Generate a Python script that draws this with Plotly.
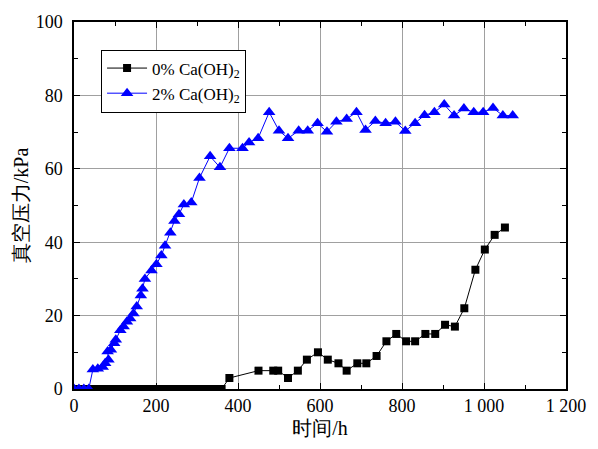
import plotly.graph_objects as go

# 0% Ca(OH)2 series
h0 = [0, 12, 24, 36, 48, 60, 72, 84, 96, 108, 120, 132, 144, 156, 168, 180, 192, 204, 216, 228,
      240, 252, 264, 276, 288, 300, 312, 324, 336, 348, 360, 379, 450, 486, 498, 522, 546, 568,
      595, 619, 645, 665, 691, 713, 738, 762, 786, 810, 832, 857, 881, 905, 929, 952, 979, 1002,
      1026, 1051]
p0 = [0, 0, 0, 0, 0, 0, 0, 0, 0, 0, 0, 0, 0, 0, 0, 0, 0, 0, 0, 0,
      0, 0, 0, 0, 0, 0, 0, 0, 0, 0, 0, 3, 5, 5, 5, 3, 5, 8,
      10, 8, 7, 5, 7, 7, 9, 13, 15, 13, 13, 15, 15, 17.5, 17, 22, 32.5, 38,
      42, 44]

# 2% Ca(OH)2 series
h2 = [0, 12, 24, 36, 46, 58, 70, 76, 84, 82, 90, 98, 102, 113, 121, 129, 137, 145, 153, 163,
      167, 173, 189, 201, 213, 222, 235, 245, 256, 268, 286, 306, 332, 356, 379, 411, 427, 449,
      476, 500, 522, 548, 570, 594, 617, 640, 665, 689, 711, 735, 760, 784, 808, 832, 855, 879,
      903, 927, 951, 975, 998, 1022, 1046, 1070]
p2 = [0, 0, 0, 0, 5.3, 5.5, 6, 7, 8, 10.2, 10.7, 12.5, 13.4, 16, 17, 18.3, 19.2, 20.6, 22.5, 25.5,
      27.3, 30, 32.3, 34, 36.4, 39, 42.6, 45.8, 47.6, 50.3, 50.8, 57.5, 63.4, 60.4, 65.6, 65.6, 67.2, 68.3,
      75.4, 70.4, 68.3, 70.4, 70.4, 72.4, 70.1, 72.8, 73.6, 75.4, 70.6, 73, 72.4, 72.8, 70.3, 72.4, 74.6, 75.4,
      77.5, 74.5, 76.4, 75.4, 75.4, 76.6, 74.5, 74.5]

x_ticks = [0, 200, 400, 600, 800, 1000, 1200]
x_labels = ["0", "200", "400", "600", "800", "1 000", "1 200"]
y_ticks = [0, 20, 40, 60, 80, 100]

FONT = "Times New Roman, Liberation Serif, DejaVu Serif, serif"

fig = go.Figure()
fig.add_trace(go.Scatter(
    x=h0, y=p0, mode="lines+markers", name="0% Ca(OH)<sub>2</sub>",
    line=dict(color="black", width=1),
    marker=dict(symbol="square", size=8, color="black"),
))
fig.add_trace(go.Scatter(
    x=h2, y=p2, mode="lines+markers", name="2% Ca(OH)<sub>2</sub>",
    line=dict(color="blue", width=1),
    marker=dict(symbol="triangle-up", size=11, color="blue"),
))

axis_common = dict(
    showline=True, linecolor="black", linewidth=1.5, mirror="allticks",
    ticks="inside", ticklen=6, tickwidth=1.2, tickcolor="black",
    showgrid=True, gridcolor="#a0a0a0", gridwidth=1, zeroline=False,
    tickfont=dict(family=FONT, size=18, color="#000000"),
    ticklabeloverflow="allow",
)

fig.update_xaxes(
    range=[0, 1200], tickvals=x_ticks, ticktext=x_labels,
    minor=dict(ticks="inside", dtick=100, ticklen=4, tickcolor="black", showgrid=False),
    title=dict(text="时间/h", font=dict(family=FONT, size=20, color="#000000"), standoff=6),
    **axis_common,
)
fig.update_yaxes(
    range=[0, 100], tickvals=y_ticks, ticklabelstandoff=6,
    minor=dict(ticks="inside", dtick=10, ticklen=4, tickcolor="black", showgrid=False),
    title=dict(text="真空压力/kPa", font=dict(family=FONT, size=20, color="#000000"), standoff=2),
    **axis_common,
)

fig.update_layout(
    width=598, height=449,
    margin=dict(l=74, r=20, t=20, b=60),
    plot_bgcolor="white", paper_bgcolor="white",
    font=dict(family=FONT, color="#000000"),
    legend=dict(
        x=0.055, y=0.925, xanchor="left", yanchor="top",
        bgcolor="white", bordercolor="black", borderwidth=1,
        font=dict(family=FONT, size=17, color="#000000"),
        tracegroupgap=4, itemwidth=40,
    ),
    showlegend=True,
)

fig.write_html("out.html")
